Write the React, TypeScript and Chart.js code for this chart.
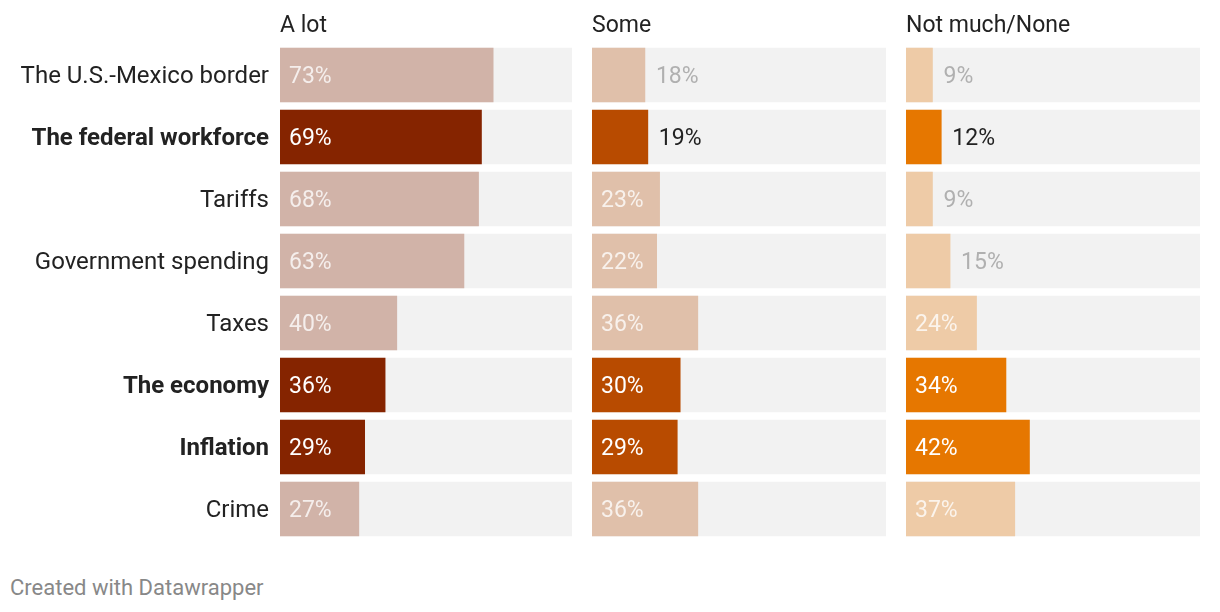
import React, { useEffect, useRef } from "react";
import { Chart, registerables } from "chart.js";

Chart.register(...registerables);

const categories = [
  "The U.S.-Mexico border",
  "The federal workforce",
  "Tariffs",
  "Government spending",
  "Taxes",
  "The economy",
  "Inflation",
  "Crime",
];
const highlighted = [false, true, false, false, false, true, true, false];
const panelTitles = ["A lot", "Some", "Not much/None"];
const aLot = [73, 69, 68, 63, 40, 36, 29, 27];
const some = [18, 19, 23, 22, 36, 30, 29, 36];
const notMuch = [9, 12, 9, 15, 24, 34, 42, 37];
const fullScale = [100, 100, 100, 100, 100, 100, 100, 100];

const mutedColors = ["#d1b3a8", "#e0c0aa", "#eecba7"];
const strongColors = ["#852400", "#b84b00", "#e67700"];
const FONT = "Roboto, 'Noto Sans', sans-serif";

type PanelDef = {
  title: string;
  values: number[];
  muted: string;
  strong: string;
  showCategories: boolean;
  left: number;
  width: number;
};

const panels: PanelDef[] = [
  { title: panelTitles[0], values: aLot, muted: mutedColors[0], strong: strongColors[0], showCategories: true, left: 0, width: 572 },
  { title: panelTitles[1], values: some, muted: mutedColors[1], strong: strongColors[1], showCategories: false, left: 592, width: 294 },
  { title: panelTitles[2], values: notMuch, muted: mutedColors[2], strong: strongColors[2], showCategories: false, left: 906, width: 294 },
];

const CANVAS_H = 540;

function makeLabelPlugin(p: PanelDef) {
  return {
    id: "barLabels",
    afterDatasetsDraw(chart: any) {
      const ctx = chart.ctx;
      const meta = chart.getDatasetMeta(0);
      ctx.save();
      ctx.textBaseline = "middle";
      ctx.textAlign = "left";
      meta.data.forEach((el: any, i: number) => {
        const v = p.values[i];
        const hl = highlighted[i];
        const txt = v + "%";
        ctx.font = `400 23px ${FONT}`;
        const inside = v >= 20;
        let x: number;
        let color: string;
        if (inside) {
          x = el.base + 9;
          color = hl ? "#ffffff" : "rgba(255,255,255,0.78)";
        } else {
          x = el.x + 11;
          color = hl ? "#222222" : "#b0b0b0";
        }
        ctx.fillStyle = color;
        ctx.fillText(txt, x, el.y + 2);
      });
      ctx.restore();
    },
    afterDraw(chart: any) {
      const ctx = chart.ctx;
      ctx.save();
      ctx.font = `400 23px ${FONT}`;
      ctx.fillStyle = "#222222";
      ctx.textAlign = "left";
      ctx.textBaseline = "middle";
      ctx.fillText(p.title, chart.chartArea.left, 26);
      ctx.restore();
    },
  };
}

function Panel({ p }: { p: PanelDef }) {
  const ref = useRef<HTMLCanvasElement | null>(null);
  useEffect(() => {
    if (!ref.current) return;
    const chart = new Chart(ref.current, {
      type: "bar",
      data: {
        labels: categories,
        datasets: [
          {
            data: p.values,
            backgroundColor: p.values.map((_, i) => (highlighted[i] ? p.strong : p.muted)),
            borderWidth: 0,
            barThickness: 54,
            grouped: false,
            order: 0,
          } as any,
          {
            data: fullScale,
            backgroundColor: "#f2f2f2",
            borderWidth: 0,
            barThickness: 54,
            grouped: false,
            order: 1,
          } as any,
        ],
      },
      options: {
        indexAxis: "y",
        responsive: false,
        animation: false,
        devicePixelRatio: 1,
        layout: { padding: { top: 44, bottom: 0, left: 0, right: 0 } },
        plugins: { legend: { display: false }, tooltip: { enabled: false }, title: { display: false } },
        scales: {
          x: { display: false, min: 0, max: 100 },
          y: {
            display: p.showCategories,
            grid: { display: false, drawTicks: false },
            border: { display: false },
            afterFit: (scale: any) => {
              if (p.showCategories) scale.width = 280;
              scale.paddingTop = 0;
              scale.paddingBottom = 0;
            },
            ticks: {
              color: "#222222",
              padding: 11,
              labelOffset: 2,
              font: (c: any) => ({
                family: FONT,
                size: 24,
                weight: highlighted[c.index] ? "bold" : "normal",
              }),
            },
          },
        },
      } as any,
      plugins: [makeLabelPlugin(p)],
    });
    return () => chart.destroy();
  }, []);
  return (
    <canvas
      ref={ref}
      width={p.width}
      height={CANVAS_H}
      style={{ position: "absolute", left: p.left, top: 0, width: p.width, height: CANVAS_H }}
    />
  );
}

export default function App() {
  return (
    <div style={{ position: "absolute", left: 0, top: 0, width: 1220, height: 612, background: "#fff", overflow: "hidden" }}>
      {panels.map((p) => (
        <Panel key={p.title} p={p} />
      ))}
      <div
        style={{
          position: "absolute",
          left: 10,
          top: 576,
          fontFamily: FONT,
          fontSize: 22,
          lineHeight: "24px",
          color: "#888888",
        }}
      >
        Created with Datawrapper
      </div>
    </div>
  );
}
